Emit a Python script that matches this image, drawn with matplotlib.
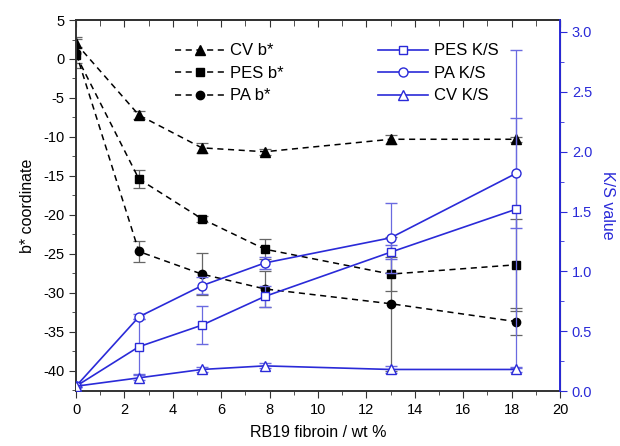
import numpy as np
import matplotlib
matplotlib.use('Agg')
import matplotlib.pyplot as plt
from matplotlib.ticker import MultipleLocator

plt.rcParams['font.family'] = ['Liberation Sans', 'DejaVu Sans']
plt.rcParams['axes.unicode_minus'] = False

fibroin = [0, 2.6, 5.2, 7.8, 13, 18.2]

# b* coordinate (left axis)
cv_b = [2.0, -7.2, -11.4, -11.9, -10.3, -10.3]
cv_b_err = [0.6, 0.5, 0.6, 0.4, 0.6, 0.3]
pes_b = [0.5, -15.4, -20.5, -24.4, -27.6, -26.4]
pes_b_err = [1.0, 1.2, 0.4, 1.3, 2.2, 5.9]
pa_b = [0.8, -24.7, -27.6, -29.5, -31.4, -33.7]
pa_b_err = [2.0, 1.3, 2.7, 2.3, 8.6, 1.7]

# K/S value (right axis)
pes_ks = [0.04, 0.37, 0.55, 0.79, 1.16, 1.52]
pes_ks_err = [0.01, 0.23, 0.16, 0.09, 0.06, 1.33]
pa_ks = [0.04, 0.62, 0.88, 1.07, 1.28, 1.82]
pa_ks_err = [0.01, 0.02, 0.07, 0.05, 0.29, 0.46]
cv_ks = [0.04, 0.11, 0.18, 0.21, 0.18, 0.18]
cv_ks_err = [0.01, 0.02, 0.02, 0.02, 0.03, 0.02]

blue = '#2a2ad8'
blue_err = '#6a6ae0'
grey_err = '#666666'

fig = plt.figure(figsize=(6.2, 4.46), dpi=100)
ax = fig.add_axes([0.1226, 0.1233, 0.7806, 0.8318])
ax2 = ax.twinx()

# b* series, dashed black
lines1 = []
for y, e, m, ms, lab in [(cv_b, cv_b_err, '^', 6.5, 'CV b*'),
                         (pes_b, pes_b_err, 's', 5.5, 'PES b*'),
                         (pa_b, pa_b_err, 'o', 6, 'PA b*')]:
    c = ax.errorbar(fibroin, y, yerr=e, color='black', ls=(0, (4, 3)), lw=1.1,
                    marker=m, ms=ms, mfc='black', mec='black',
                    ecolor=grey_err, elinewidth=0.9, capsize=4, capthick=0.9)
    c[0].set_label(lab)
    lines1.append(c[0])

# K/S series, solid blue, open markers
lines2 = []
for y, e, m, ms, lab in [(pes_ks, pes_ks_err, 's', 6, 'PES K/S'),
                         (pa_ks, pa_ks_err, 'o', 6.5, 'PA K/S'),
                         (cv_ks, cv_ks_err, '^', 6.5, 'CV K/S')]:
    c = ax2.errorbar(fibroin, y, yerr=e, color=blue, ls='-', lw=1.2,
                     marker=m, ms=ms, mfc='white', mec=blue, mew=1.0,
                     ecolor=blue_err, elinewidth=0.9, capsize=4, capthick=0.9)
    c[0].set_label(lab)
    lines2.append(c[0])

ax.set_xlim(0, 20)
ax.set_ylim(-42.6, 5)
ax2.set_ylim(0, 3.1)

ax.xaxis.set_major_locator(MultipleLocator(2))
ax.xaxis.set_minor_locator(MultipleLocator(1))
ax.yaxis.set_major_locator(MultipleLocator(5))
ax.yaxis.set_minor_locator(MultipleLocator(2.5))
ax2.yaxis.set_major_locator(MultipleLocator(0.5))
ax2.yaxis.set_minor_locator(MultipleLocator(0.25))

ax.tick_params(axis='x', which='major', direction='out', length=5, labelsize=10.5, color='#333333')
ax.tick_params(axis='x', which='minor', direction='out', length=3, color='#333333')
ax.tick_params(axis='y', which='major', direction='out', length=5, labelsize=10.5, color='#333333')
ax.tick_params(axis='y', which='minor', direction='out', length=3, color='#333333')
ax2.tick_params(axis='y', which='major', direction='out', length=5, labelsize=10.5,
                colors=blue)
ax2.tick_params(axis='y', which='minor', direction='out', length=3, colors=blue)

# top axis: inward ticks, no labels
top = ax.secondary_xaxis('top')
top.xaxis.set_major_locator(MultipleLocator(2))
top.xaxis.set_minor_locator(MultipleLocator(1))
top.tick_params(which='major', direction='in', length=5, labeltop=False, color='#333333')
top.tick_params(which='minor', direction='in', length=4, color='#333333')
top.spines['top'].set_color('#333333')
top.spines['top'].set_linewidth(1.4)

for s in ['left', 'bottom', 'top']:
    ax.spines[s].set_color('#333333')
    ax.spines[s].set_linewidth(1.4)
ax2.spines['right'].set_color(blue)
ax2.spines['right'].set_linewidth(1.4)
for s in ['left', 'bottom', 'top']:
    ax2.spines[s].set_visible(False)

ax.set_xlabel('RB19 fibroin / wt %', fontsize=11.5, labelpad=6)
ax.set_ylabel('b* coordinate', fontsize=11.5, labelpad=6)
ax2.set_ylabel('K/S value', fontsize=11.5, color=blue, rotation=270, labelpad=16)

ax.legend(handles=lines1, loc='upper left', bbox_to_anchor=(0.19, 0.955), frameon=False,
          fontsize=12, handlelength=3.0, handletextpad=0.35,
          labelspacing=0.45, borderaxespad=0)
ax2.legend(handles=lines2, loc='upper left', bbox_to_anchor=(0.61, 0.955), frameon=False,
           fontsize=12, handlelength=3.0, handletextpad=0.35,
           labelspacing=0.45, borderaxespad=0)

fig.savefig('out.png', dpi=100)
